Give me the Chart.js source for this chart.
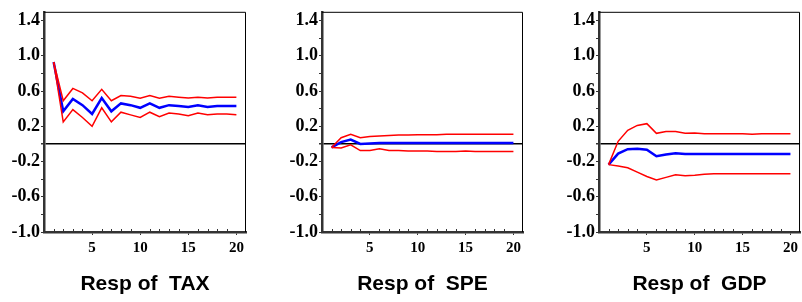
<!DOCTYPE html>
<html>
<head>
<meta charset="utf-8">
<script src="https://cdn.jsdelivr.net/npm/chart.js@4/dist/chart.umd.min.js"></script>
<style>
body{margin:0;width:802px;height:302px;overflow:hidden;background:#fff;position:relative}
canvas{position:absolute;top:0}
</style>
</head>
<body>
<canvas id="c1" width="250" height="302" style="left:0px"></canvas>
<canvas id="c2" width="249" height="302" style="left:278px"></canvas>
<canvas id="c3" width="247" height="302" style="left:555px"></canvas>
<script>
// periods 1..20
const periods=[1,2,3,4,5,6,7,8,9,10,11,12,13,14,15,16,17,18,19,20];
const xTicks=[1,2,3,4,5,6,7,8,9,10,11,12,13,14,15,16,17,18,19,20];
const xLabels=[5,10,15,20];
const yTicks=[-1.0,-0.8,-0.6,-0.4,-0.2,0,0.2,0.4,0.6,0.8,1.0,1.2,1.4];
const yLabels=[-1.0,-0.6,-0.2,0.2,0.6,1.0,1.4];

// Resp of TAX
const taxResp=[0.93,0.37,0.51,0.44,0.34,0.52,0.37,0.46,0.44,0.41,0.46,0.41,0.44,0.43,0.42,0.44,0.42,0.43,0.43,0.43];
const taxUpper=[0.93,0.49,0.63,0.58,0.49,0.62,0.49,0.55,0.54,0.52,0.55,0.52,0.54,0.53,0.52,0.53,0.52,0.53,0.53,0.53];
const taxLower=[0.93,0.25,0.39,0.30,0.20,0.41,0.25,0.36,0.33,0.30,0.36,0.31,0.35,0.34,0.32,0.35,0.33,0.34,0.34,0.33];

// Resp of SPE
const speResp=[-0.04,0.02,0.05,0.0,0.005,0.01,0.01,0.01,0.01,0.01,0.01,0.01,0.01,0.01,0.01,0.01,0.01,0.01,0.01,0.01];
const speUpper=[-0.04,0.07,0.11,0.07,0.085,0.09,0.095,0.10,0.10,0.105,0.105,0.105,0.11,0.11,0.11,0.11,0.11,0.11,0.11,0.11];
const speLower=[-0.04,-0.045,-0.01,-0.075,-0.075,-0.055,-0.075,-0.075,-0.08,-0.08,-0.08,-0.085,-0.085,-0.085,-0.08,-0.085,-0.085,-0.085,-0.085,-0.085];

// Resp of GDP
const gdpResp=[-0.235,-0.11,-0.06,-0.055,-0.065,-0.14,-0.12,-0.105,-0.115,-0.115,-0.115,-0.115,-0.115,-0.115,-0.115,-0.115,-0.115,-0.115,-0.115,-0.115];
const gdpUpper=[-0.235,0.03,0.155,0.21,0.23,0.12,0.14,0.14,0.12,0.125,0.115,0.115,0.115,0.115,0.115,0.11,0.115,0.115,0.115,0.115];
const gdpLower=[-0.235,-0.25,-0.27,-0.32,-0.37,-0.41,-0.38,-0.35,-0.36,-0.355,-0.345,-0.34,-0.34,-0.34,-0.34,-0.34,-0.34,-0.34,-0.34,-0.34];

function pts(arr){
return periods.map((p,i)=>({x:p,y:arr[i]}));
}

const boxPlugin={
id:"box",
afterDraw(chart){
const a=chart.chartArea, ctx=chart.ctx, xs=chart.scales.x;
ctx.save();
ctx.strokeStyle="#000";
ctx.lineWidth=1;
ctx.beginPath();
ctx.moveTo(a.left,a.top+0.5);
ctx.lineTo(a.right-0.5,a.top+0.5);
ctx.lineTo(a.right-0.5,a.bottom);
ctx.stroke();
// small inner ticks on x axis
ctx.strokeStyle="#333";
ctx.beginPath();
xTicks.forEach(v=>{
if(xLabels.includes(v)) return;
const px=Math.round(xs.getPixelForValue(v))+0.5;
ctx.moveTo(px,a.bottom);
ctx.lineTo(px,a.bottom-3);
});
ctx.stroke();
ctx.restore();
}
};

function makePanel(id,title,resp,upper,lower){
new Chart(document.getElementById(id),{
type:"line",
data:{
datasets:[
{data:pts(upper),borderColor:"#ff0000",borderWidth:1.5,pointRadius:0,tension:0},
{data:pts(lower),borderColor:"#ff0000",borderWidth:1.5,pointRadius:0,tension:0},
{data:pts(resp),borderColor:"#0000ff",borderWidth:2.5,pointRadius:0,tension:0}
]
},
options:{
responsive:false,
animation:false,
events:[],
layout:{padding:{top:7,right:id==="c3"?1:4,left:0,bottom:0}},
plugins:{legend:{display:false},tooltip:{enabled:false}},
scales:{
x:{
type:"linear",min:0,max:21,
afterBuildTicks:s=>{s.ticks=xTicks.map(v=>({value:v}));},
afterFit:s=>{s.height=70;},
border:{color:"#333",width:2.5},
grid:{drawOnChartArea:false,tickLength:3,
tickColor:c=>xLabels.includes(c.tick.value)?"#333":"rgba(0,0,0,0)"},
ticks:{autoSkip:false,maxRotation:0,padding:4,color:"#000",
font:{family:"'Liberation Serif','Times New Roman',serif",weight:"bold",size:15},
callback:v=>xLabels.includes(v)?String(v):""},
title:{display:true,text:title,color:"#000",padding:{top:0,bottom:5},
font:{family:"'Liberation Sans',Arial,sans-serif",weight:"bold",size:21}}
},
y:{
min:-1.0,max:1.5,
afterBuildTicks:s=>{s.ticks=yTicks.map(v=>({value:v}));},
afterFit:s=>{s.width=44;},
border:{color:"#333",width:2.5},
grid:{
color:c=>Math.abs(c.tick.value)<1e-9?"#000":"rgba(0,0,0,0)",
lineWidth:c=>Math.abs(c.tick.value)<1e-9?1.5:1,
tickColor:"#333",tickLength:3
},
ticks:{autoSkip:false,padding:1,color:"#000",
font:{family:"'Liberation Serif','Times New Roman',serif",weight:"bold",size:18},
callback:v=>yLabels.some(l=>Math.abs(l-v)<1e-9)?v.toFixed(1):""}
}
}
},
plugins:[boxPlugin]
});
}

makePanel("c1","Resp of  TAX",taxResp,taxUpper,taxLower);
makePanel("c2","Resp of  SPE",speResp,speUpper,speLower);
makePanel("c3","Resp of  GDP",gdpResp,gdpUpper,gdpLower);
</script>
</body>
</html>
